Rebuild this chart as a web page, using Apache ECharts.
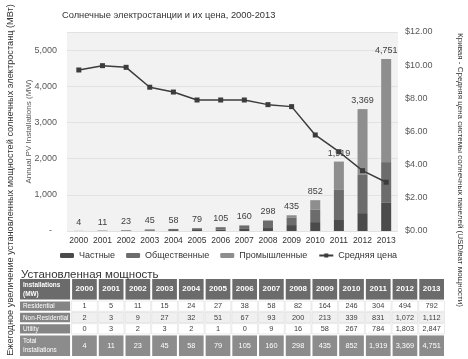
<!DOCTYPE html>
<html>
<head>
<meta charset="utf-8">
<script src="https://cdn.jsdelivr.net/npm/echarts@6/dist/echarts.min.js"></script>
<style>html,body{margin:0;padding:0;background:#fff}#c{width:468px;height:359px}</style>
</head>
<body>
<div id="c"></div>
<script>
// ---- data ----
const years = ['2000','2001','2002','2003','2004','2005','2006','2007','2008','2009','2010','2011','2012','2013'];
const residential    = [1, 5, 11, 15, 24, 27, 38, 58, 82, 164, 246, 304, 494, 792];
const nonResidential = [2, 3, 9, 27, 32, 51, 67, 93, 200, 213, 339, 831, 1072, 1112];
const utility        = [0, 3, 2, 3, 2, 1, 0, 9, 16, 58, 267, 784, 1803, 2847];
const totals         = [4, 11, 23, 45, 58, 79, 105, 160, 298, 435, 852, 1919, 3369, 4751];
const avgPrice       = [9.71, 9.97, 9.87, 8.67, 8.38, 7.90, 7.90, 7.90, 7.62, 7.50, 5.79, 4.78, 3.64, 2.94];
const seriesNames = ['Частные', 'Общественные', 'Промышленные', 'Средняя цена'];
const tableRowLabels = ['Installations\n(MW)', 'Residential', 'Non-Residential', 'Utility', 'Total\nInstallations'];

const titleText = 'Солнечные электростанции и их цена, 2000-2013';
const tableTitle = 'Установленная мощность';
const leftOuterText = 'Ежегодное увеличение установленных мощностей солнечных электростанц (МВт)';
const rightOuterText = 'Кривая - Средняя цена системы солнечных панелей (USD/ват мощности)';
const leftAxisName = 'Annual PV Installations (MW)';

// ---- table layout ----
const ROW_EDGES = [0, 2, 3, 4, 5, 7];
const LABEL_W = 1.95;
const fmt = v => v.toLocaleString('en-US');
const tableRows = [years, residential.map(fmt), nonResidential.map(fmt), utility.map(fmt), totals.map(fmt)];
const cells = [];
tableRows.forEach((vals, r) => {
  cells.push({col: -1, row: r, text: tableRowLabels[r]});
  vals.forEach((v, c) => cells.push({col: c, row: r, text: v}));
});

const sans = "'Liberation Sans', Arial, sans-serif";

const chart = echarts.init(document.getElementById('c'), null, {renderer: 'canvas'});
const barCommon = {type: 'bar', stack: 'mw', barWidth: 10, barGap: '-100%', xAxisIndex: 0, yAxisIndex: 0};

chart.setOption({
  animation: false,
  backgroundColor: '#ffffff',
  title: [
    {text: titleText, left: 57, top: 6, textStyle: {fontSize: 9.3, fontWeight: 'normal', color: '#333', fontFamily: sans}},
    {text: tableTitle, left: 16, top: 264, textStyle: {fontSize: 11.5, fontWeight: 'normal', color: '#333', fontFamily: sans}}
  ],
  legend: {
    data: seriesNames, left: 55, top: 246, itemWidth: 14, itemHeight: 5, itemGap: 11,
    textStyle: {fontSize: 9, color: '#333', fontFamily: sans}
  },
  grid: [
    {left: 67, top: 32, width: 331, height: 199, show: true, backgroundColor: '#f2f2f2', borderWidth: 0},
    {left: 19, top: 278, width: 426, height: 79, show: false}
  ],
  xAxis: [
    {type: 'category', gridIndex: 0, data: years, boundaryGap: true,
     axisLine: {show: false}, axisTick: {show: false},
     axisLabel: {fontSize: 8.5, color: '#333', margin: 5, fontFamily: sans, interval: 0}},
    {type: 'value', gridIndex: 1, min: -LABEL_W, max: 14, show: false}
  ],
  yAxis: [
    {type: 'value', gridIndex: 0, min: 0, max: 5500, interval: 1000,
     name: leftAxisName, nameLocation: 'middle', nameGap: 34, nameRotate: 90, nameMoveOverlap: false,
     nameTextStyle: {fontSize: 8, color: '#595959', fontFamily: sans},
     axisLine: {show: false}, axisTick: {show: false},
     splitLine: {lineStyle: {color: '#e2e2e2', width: 1}},
     axisLabel: {fontSize: 9, color: '#595959', margin: 10, fontFamily: sans, showMaxLabel: false,
       formatter: v => v === 0 ? '-  ' : fmt(v)}},
    {type: 'value', gridIndex: 0, min: 0, max: 12, interval: 2, position: 'right',
     axisLine: {show: false}, axisTick: {show: false}, splitLine: {show: false},
     axisLabel: {fontSize: 9, color: '#595959', margin: 7, fontFamily: sans,
       formatter: v => '$' + v.toFixed(2)}},
    {type: 'value', gridIndex: 1, min: 0, max: 7, inverse: true, show: false}
  ],
  series: [
    Object.assign({name: seriesNames[0], data: residential, itemStyle: {color: '#4b4b4b'}}, barCommon),
    Object.assign({name: seriesNames[1], data: nonResidential, itemStyle: {color: '#6c6c6c'}}, barCommon),
    Object.assign({name: seriesNames[2], data: utility, itemStyle: {color: '#8e8e8e'}}, barCommon),
    {type: 'bar', name: 'total', data: totals, barWidth: 10, barGap: '-100%', silent: true,
     itemStyle: {color: 'rgba(0,0,0,0)'},
     label: {show: true, position: 'top', distance: 4, fontSize: 9, color: '#404040', fontFamily: sans,
       formatter: p => fmt(p.value)}},
    {type: 'line', name: seriesNames[3], data: avgPrice, yAxisIndex: 1, z: 5,
     symbol: 'rect', symbolSize: 5, lineStyle: {color: '#3c3c3c', width: 1.5},
     itemStyle: {color: '#3c3c3c'}},
    {type: 'custom', xAxisIndex: 1, yAxisIndex: 2, silent: true,
     data: cells.map(c => [c.col, c.row]), encode: {x: 0, y: 1},
     renderItem: function (params, api) {
       const c = cells[params.dataIndex];
       const x0 = c.col < 0 ? -LABEL_W : c.col, x1 = c.col < 0 ? 0 : c.col + 1;
       const p0 = api.coord([x0, ROW_EDGES[c.row]]), p1 = api.coord([x1, ROW_EDGES[c.row + 1]]);
       const dark = c.row === 0 || c.row === 4 || c.col < 0;
       let fill;
       if (c.row === 0) fill = '#6b6b6b';
       else if (c.row === 4) fill = '#8c8c8c';
       else if (c.col < 0) fill = '#858585';
       else fill = c.row === 2 ? '#f0f0f0' : '#ffffff';
       const inset = dark ? 1 : 0.5;
       const x = Math.min(p0[0], p1[0]) + inset, y = Math.min(p0[1], p1[1]) + inset;
       const w = Math.abs(p1[0] - p0[0]) - 2 * inset, h = Math.abs(p1[1] - p0[1]) - 2 * inset;
       const isLabel = c.col < 0;
       const bold = c.row === 0;
       const tx = isLabel ? x + 3 : x + w / 2;
       const ty = y + h / 2;
       const sx = isLabel ? 0.8 : (bold ? 1 : 0.92);
       return {type: 'group', children: [
         {type: 'rect', shape: {x: x, y: y, width: w, height: h},
          style: {fill: fill, stroke: dark ? null : '#d6d6d6', lineWidth: dark ? 0 : 0.5}},
         {type: 'text', x: tx, y: ty, scaleX: sx,
          style: {text: c.text, x: 0, y: 0,
           align: isLabel ? 'left' : 'center', verticalAlign: 'middle',
           fill: dark ? '#ffffff' : '#404040',
           font: (bold ? 'bold ' : '') + '8px ' + sans, lineHeight: 9}}
       ]};
     }}
  ],
  graphic: [
    {type: 'text', x: 10, y: 180, rotation: Math.PI / 2,
     style: {text: leftOuterText, align: 'center', verticalAlign: 'middle', fill: '#333', font: '9.2px ' + sans}},
    {type: 'text', x: 460, y: 170, rotation: -Math.PI / 2,
     style: {text: rightOuterText, align: 'center', verticalAlign: 'middle', fill: '#333', font: '8px ' + sans}}
  ]
});
</script>
</body>
</html>
